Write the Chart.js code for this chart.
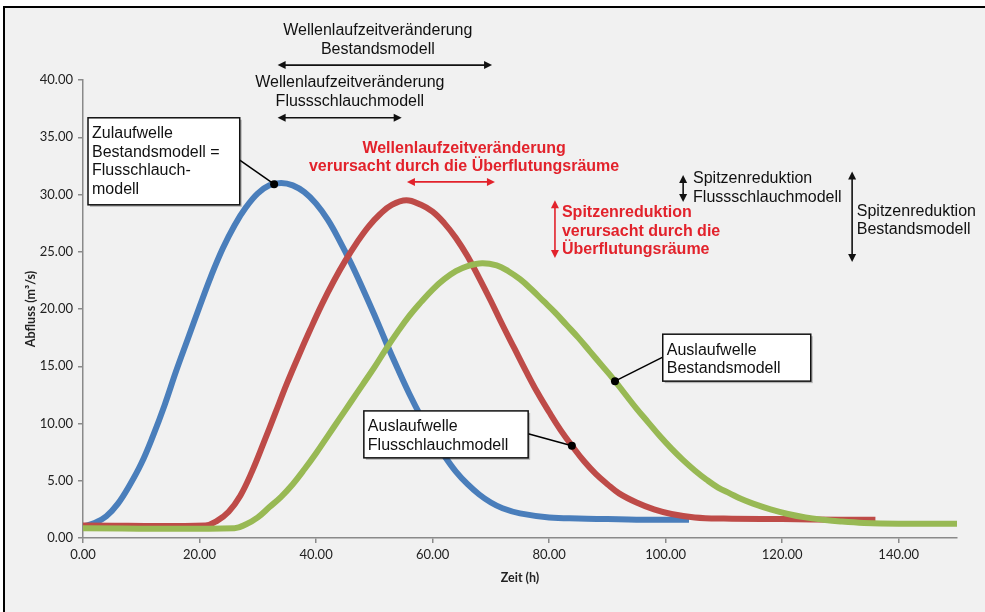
<!DOCTYPE html>
<html>
<head>
<meta charset="utf-8">
<script src="https://cdn.jsdelivr.net/npm/chart.js@4"></script>
<style>
  html, body { margin: 0; padding: 0; background: #fff; }
</style>
</head>
<body>
<canvas id="chart" width="985" height="612"></canvas>
<script>
// hydrographs: time (h) and discharge (m³/s)
const zulaufT = [0, 2, 4, 6, 8, 10, 12, 14, 16, 18, 20, 22, 24, 26, 28, 30, 32, 34, 36, 38, 40, 42, 44, 46, 48, 50, 52, 54, 56, 58, 60, 62, 64, 66, 68, 70, 72, 75, 80, 85, 90, 95, 100, 104];
const zulaufQ = [1.0, 1.3, 1.9, 3.0, 4.6, 6.5, 8.9, 11.6, 14.6, 17.4, 20.2, 22.9, 25.3, 27.3, 28.9, 30.1, 30.8, 31.0, 30.8, 30.2, 29.2, 27.8, 26.0, 24.0, 21.8, 19.5, 17.1, 14.8, 12.6, 10.6, 8.8, 7.2, 5.8, 4.7, 3.8, 3.1, 2.6, 2.15, 1.8, 1.7, 1.65, 1.6, 1.6, 1.6];

const flussT = [0, 21, 23, 25, 27, 29, 31, 33, 35, 37, 39, 41, 43, 45, 47, 49, 51, 53, 55.5, 58, 60, 62, 64, 66, 68, 70, 72, 74, 76, 78, 80, 82, 84, 86, 88, 90, 92, 95, 98, 101, 105, 110, 120, 130, 136];
const flussQ = [1.1, 1.1, 1.5, 2.3, 3.7, 5.8, 8.3, 10.9, 13.5, 15.9, 18.2, 20.4, 22.4, 24.2, 25.8, 27.2, 28.3, 29.1, 29.5, 29.1, 28.5, 27.5, 26.2, 24.6, 22.7, 20.7, 18.6, 16.6, 14.6, 12.7, 11.0, 9.4, 8.0, 6.7, 5.6, 4.7, 3.9, 3.1, 2.5, 2.1, 1.8, 1.7, 1.65, 1.6, 1.6];

const bestandT = [0, 26, 28, 30, 32, 34, 36, 38, 40, 42, 44, 46, 48, 50, 52, 54, 56, 58, 60, 62, 64, 66, 68.5, 71, 73, 75, 77, 79, 81, 83, 85, 87, 89, 91, 93, 95, 97, 99, 101, 103, 105, 107, 109, 111, 113, 115, 118, 121, 124, 127, 130, 134, 140, 150];
const bestandQ = [0.85, 0.85, 1.2, 1.8, 2.7, 3.6, 4.7, 6.0, 7.4, 8.9, 10.4, 11.9, 13.4, 14.9, 16.5, 18.0, 19.4, 20.6, 21.7, 22.6, 23.3, 23.75, 24.0, 23.8, 23.3, 22.6, 21.7, 20.7, 19.7, 18.6, 17.5, 16.3, 15.1, 13.9, 12.6, 11.3, 10.1, 8.9, 7.8, 6.8, 5.9, 5.1, 4.4, 3.9, 3.4, 3.0, 2.5, 2.1, 1.8, 1.6, 1.45, 1.32, 1.25, 1.25];

const xTitle = 'Zeit (h)';
const yTitle = 'Abfluss (m³/s)';

const RED = '#e2222b';

// annotation texts, anchored in data units (time, discharge)
const textLabels = [
  { t: 50.6, v: 44.3, lines: ['Wellenlaufzeitveränderung', 'Bestandsmodell'], align: 'center', color: '#111', bold: false },
  { t: 45.8, v: 39.75, lines: ['Wellenlaufzeitveränderung', 'Flussschlauchmodell'], align: 'center', color: '#111', bold: false },
  { t: 65.4, v: 34.05, lines: ['Wellenlaufzeitveränderung', 'verursacht durch die Überflutungsräume'], align: 'center', color: RED, bold: true },
  { t: 82.2, v: 28.4, lines: ['Spitzenreduktion', 'verursacht durch die', 'Überflutungsräume'], align: 'left', color: RED, bold: true },
  { t: 104.7, v: 31.35, lines: ['Spitzenreduktion', 'Flussschlauchmodell'], align: 'left', color: '#111', bold: false },
  { t: 132.8, v: 28.55, lines: ['Spitzenreduktion', 'Bestandsmodell'], align: 'left', color: '#111', bold: false }
];

const arrows = [
  { t1: 33.4, v1: 41.3, t2: 70.2, v2: 41.3, color: '#111' },
  { t1: 33.4, v1: 36.7, t2: 54.7, v2: 36.7, color: '#111' },
  { t1: 55.6, v1: 31.1, t2: 70.7, v2: 31.1, color: RED },
  { t1: 81.0, v1: 29.5, t2: 81.0, v2: 24.45, color: RED },
  { t1: 103.0, v1: 31.7, t2: 103.0, v2: 29.35, color: '#111' },
  { t1: 132.0, v1: 32.0, t2: 132.0, v2: 24.1, color: '#111' }
];

const callouts = [
  { t1: 0.86, v1: 36.7, t2: 26.9, v2: 29.1, lines: ['Zulaufwelle', 'Bestandsmodell =', 'Flusschlauch-', 'modell'],
    from: { t: 26.9, v: 33.0 }, dot: { t: 32.8, v: 30.9 } },
  { t1: 48.2, v1: 11.1, t2: 76.4, v2: 7.0, lines: ['Auslaufwelle', 'Flusschlauchmodell'],
    from: { t: 76.4, v: 9.1 }, dot: { t: 83.9, v: 8.05 } },
  { t1: 99.5, v1: 17.8, t2: 124.9, v2: 13.7, lines: ['Auslaufwelle', 'Bestandsmodell'],
    from: { t: 99.5, v: 15.8 }, dot: { t: 91.3, v: 13.7 } }
];

const toPoints = (ts, qs) => ts.map((t, i) => ({ x: t, y: qs[i] }));

function drawArrow(ctx, x1, y1, x2, y2, color) {
  const ang = Math.atan2(y2 - y1, x2 - x1);
  const hl = 8, hw = 4;
  ctx.strokeStyle = color;
  ctx.fillStyle = color;
  ctx.lineWidth = 1.6;
  ctx.beginPath();
  ctx.moveTo(x1 + Math.cos(ang) * hl * 0.8, y1 + Math.sin(ang) * hl * 0.8);
  ctx.lineTo(x2 - Math.cos(ang) * hl * 0.8, y2 - Math.sin(ang) * hl * 0.8);
  ctx.stroke();
  [[x2, y2, ang], [x1, y1, ang + Math.PI]].forEach(([x, y, a]) => {
    ctx.beginPath();
    ctx.moveTo(x, y);
    ctx.lineTo(x - Math.cos(a) * hl - Math.sin(a) * hw, y - Math.sin(a) * hl + Math.cos(a) * hw);
    ctx.lineTo(x - Math.cos(a) * hl + Math.sin(a) * hw, y - Math.sin(a) * hl - Math.cos(a) * hw);
    ctx.closePath();
    ctx.fill();
  });
}

const frame = {
  id: 'frame',
  beforeDraw(chart) {
    const ctx = chart.ctx;
    ctx.save();
    ctx.fillStyle = '#fff';
    ctx.fillRect(0, 0, chart.width, chart.height);
    ctx.fillStyle = '#f1f1f1';
    ctx.fillRect(4, 7, chart.width, chart.height);
    ctx.strokeStyle = '#000';
    ctx.lineWidth = 2;
    ctx.strokeRect(4, 7, chart.width + 10, chart.height + 10);
    ctx.restore();
  }
};

const notes = {
  id: 'notes',
  afterDatasetsDraw(chart) {
    const ctx = chart.ctx;
    const xs = chart.scales.x, ys = chart.scales.y;
    const px = t => xs.getPixelForValue(t);
    const py = v => ys.getPixelForValue(v);
    ctx.save();

    arrows.forEach(a => drawArrow(ctx, px(a.t1), py(a.v1), px(a.t2), py(a.v2), a.color));

    ctx.textBaseline = 'middle';
    textLabels.forEach(l => {
      ctx.font = (l.bold ? 'bold ' : '') + '16px "Liberation Sans", Arial, sans-serif';
      ctx.fillStyle = l.color;
      ctx.textAlign = l.align;
      l.lines.forEach((s, i) => ctx.fillText(s, px(l.t), py(l.v) + i * 18.5));
    });

    callouts.forEach(c => {
      const x1 = px(c.t1), y1 = py(c.v1), x2 = px(c.t2), y2 = py(c.v2);
      // leader line and dot
      ctx.strokeStyle = '#000';
      ctx.lineWidth = 1.5;
      ctx.beginPath();
      ctx.moveTo(px(c.from.t), py(c.from.v));
      ctx.lineTo(px(c.dot.t), py(c.dot.v));
      ctx.stroke();
      ctx.fillStyle = '#000';
      ctx.beginPath();
      ctx.arc(px(c.dot.t), py(c.dot.v), 4, 0, Math.PI * 2);
      ctx.fill();
      // box
      ctx.fillStyle = 'rgba(0,0,0,0.25)';
      ctx.fillRect(x1 + 2, y1 + 2, x2 - x1, y2 - y1);
      ctx.fillStyle = '#fff';
      ctx.fillRect(x1, y1, x2 - x1, y2 - y1);
      ctx.strokeStyle = '#111';
      ctx.lineWidth = 1.5;
      ctx.strokeRect(x1, y1, x2 - x1, y2 - y1);
      ctx.fillStyle = '#111';
      ctx.textAlign = 'left';
      ctx.font = '16px "Liberation Sans", Arial, sans-serif';
      c.lines.forEach((s, i) => ctx.fillText(s, x1 + 4, y1 + 16 + i * 18.6));
    });

    ctx.restore();
  }
};

const tickFont = { family: 'Lato, "Open Sans", sans-serif', size: 13 };
const titleFont = { family: 'Lato, "Open Sans", sans-serif', size: 12.5, weight: 'bold' };

new Chart(document.getElementById('chart'), {
  type: 'line',
  data: {
    datasets: [
      { label: 'Zulaufwelle', data: toPoints(zulaufT, zulaufQ), borderColor: '#4a7ebb', order: 3 },
      { label: 'Auslaufwelle Flussschlauchmodell', data: toPoints(flussT, flussQ), borderColor: '#be4b48', order: 2 },
      { label: 'Auslaufwelle Bestandsmodell', data: toPoints(bestandT, bestandQ), borderColor: '#98b954', order: 1 }
    ]
  },
  options: {
    responsive: false,
    animation: false,
    layout: { padding: { left: 0, right: 28, top: 80, bottom: 0 } },
    elements: {
      line: { borderWidth: 6, tension: 0.4, borderCapStyle: 'butt', borderJoinStyle: 'round' },
      point: { radius: 0, hoverRadius: 0 }
    },
    plugins: { legend: { display: false }, tooltip: { enabled: false } },
    scales: {
      x: {
        type: 'linear',
        min: 0,
        max: 150,
        afterFit: s => { s.height = 74; },
        border: { color: '#8a8a8a', width: 1.5 },
        grid: { drawOnChartArea: false, drawTicks: true, tickLength: 5, color: '#8a8a8a', lineWidth: 1.5 },
        ticks: { stepSize: 20, includeBounds: false, autoSkip: false, maxRotation: 0, padding: 4,
                 color: '#222', font: tickFont, callback: v => v.toFixed(2) },
        title: { display: true, text: xTitle, color: '#222', font: titleFont, padding: { top: 0, bottom: 27 } }
      },
      y: {
        min: 0,
        max: 40,
        afterFit: s => { s.width = 83; },
        border: { color: '#8a8a8a', width: 1.5 },
        grid: { drawOnChartArea: false, drawTicks: true, tickLength: 5, color: '#8a8a8a', lineWidth: 1.5 },
        ticks: { stepSize: 5, padding: 5, color: '#222', font: tickFont, callback: v => v.toFixed(2) },
        title: { display: true, text: yTitle, color: '#222', font: titleFont, padding: { top: 23, bottom: 0 } }
      }
    }
  },
  plugins: [frame, notes]
});
</script>
</body>
</html>
